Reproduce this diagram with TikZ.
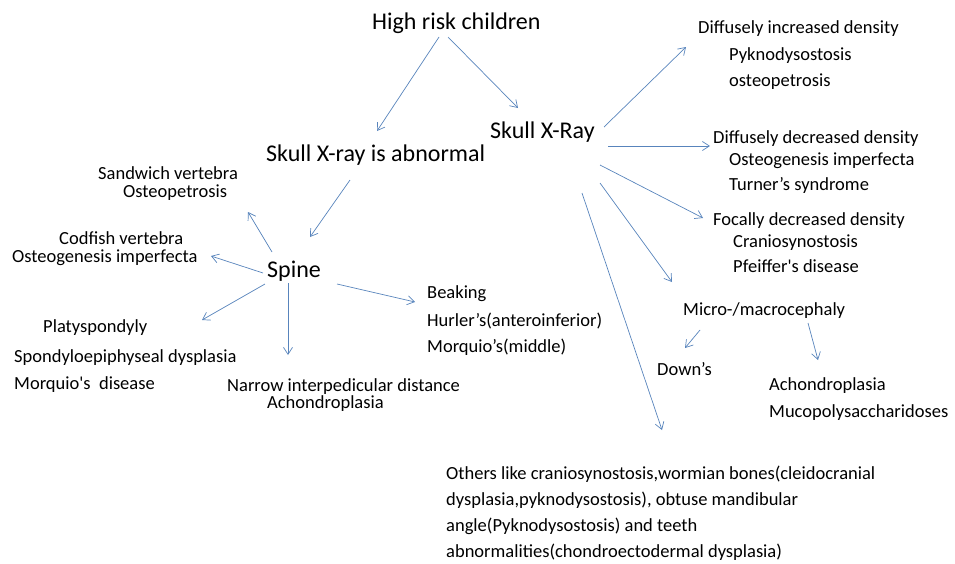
\documentclass[tikz,border=0pt]{standalone}
\usepackage{fontspec}
\setmainfont{Carlito}
\usepackage{tikz}
\usetikzlibrary{arrows.meta}
\definecolor{arrowblue}{RGB}{88,132,188}

\begin{document}
\begin{tikzpicture}[x=1pt, y=-1pt,
        big/.style={inner sep=0pt, anchor=base west, font=\fontsize{24}{28}\selectfont},
        small/.style={inner sep=0pt, anchor=base west, align=left, font=\fontsize{18.5}{26}\selectfont},
        arr/.style={draw=arrowblue, line width=0.7pt, -{Straight Barb[length=7pt, width=9pt]}}]
        \useasboundingbox (0,0) rectangle (955,563);

        % Top
        \node[big] (high) at (372, 29) {High risk children};
        \node[big] (xray) at (490, 138) {Skull X-Ray};
        \node[big] (abn) at (266, 161) {Skull X-ray is abnormal};
        \node[big] (spine) at (267, 277) {Spine};

        % Spine (blocks sit on their last line)
        \node[small] (sandwich) at (98, 197) {Sandwich vertebra\\[-8pt]\hspace*{25pt}Osteopetrosis};
        \node[small] (codfish) at (12, 262) {\hspace*{47pt}Codfish vertebra\\[-8pt]Osteogenesis imperfecta};
        \node[small] (platy) at (14, 389) {\hspace*{29pt}Platyspondyly\\[4pt]Spondyloepiphyseal dysplasia\\[1pt]Morquio\textquotesingle s\ \ disease};
        \node[small] (narrow) at (227, 408) {Narrow interpedicular distance\\[-9pt]\hspace*{40pt}Achondroplasia};
        \node[small] (beak) at (427, 352) {Beaking\\[2pt]Hurler’s(anteroinferior)\\[0pt]Morquio’s(middle)};

        % Skull X-Ray
        \node[small] (dinc) at (698, 86) {Diffusely increased density\\[1pt]\hspace*{31pt}Pyknodysostosis\\[0pt]\hspace*{31pt}osteopetrosis};
        \node[small] (ddec) at (713, 190) {Diffusely decreased density\\[-4pt]\hspace*{16pt}Osteogenesis imperfecta\\[-1pt]\hspace*{16pt}Turner’s syndrome};
        \node[small] (focal) at (713, 272) {Focally decreased density\\[-4pt]\hspace*{20pt}Craniosynostosis\\[-1pt]\hspace*{20pt}Pfeiffer\textquotesingle s disease};
        \node[small] (micro) at (683, 315) {Micro-/macrocephaly};
        \node[small] (down) at (657, 375) {Down’s};
        \node[small] (achm) at (769, 417) {Achondroplasia\\[1pt]Mucopolysaccharidoses};
        \node[small] (others) at (446, 557) {Others like craniosynostosis,wormian bones(cleidocranial\\dysplasia,pyknodysostosis), obtuse mandibular\\angle(Pyknodysostosis) and teeth\\abnormalities(chondroectodermal dysplasia)};

        \draw[arr] ([shift={(67,8)}]high.base west) -- ([shift={(111,-30)}]abn.base west);
        \draw[arr] ([shift={(76,8)}]high.base west) -- ([shift={(28,-30)}]xray.base west);
        \draw[arr] ([shift={(84,19)}]abn.base west) -- ([shift={(43,-40)}]spine.base west);

        \draw[arr] ([shift={(5,-25)}]spine.base west) -- ([shift={(150,15)}]sandwich.base west);
        \draw[arr] ([shift={(-4,-4)}]spine.base west) -- ([shift={(199,-6)}]codfish.base west);
        \draw[arr] ([shift={(-2,7)}]spine.base west) -- ([shift={(188,-69)}]platy.base west);
        \draw[arr] ([shift={(21,6)}]spine.base west) -- ([shift={(61,-53)}]narrow.base west);
        \draw[arr] ([shift={(70,7)}]spine.base west) -- ([shift={(-12,-50)}]beak.base west);

        \draw[arr] ([shift={(114,-11)}]xray.base west) -- ([shift={(-12,-39)}]dinc.base west);
        \draw[arr] ([shift={(118,8)}]xray.base west) -- ([shift={(-3,-44)}]ddec.base west);
        \draw[arr] ([shift={(110,27)}]xray.base west) -- ([shift={(-10,-54)}]focal.base west);
        \draw[arr] ([shift={(110,45)}]xray.base west) -- ([shift={(-11,-33)}]micro.base west);
        \draw[arr] ([shift={(92,55)}]xray.base west) -- ([shift={(216,-127)}]others.base west);

        \draw[arr] ([shift={(17,15)}]micro.base west) -- ([shift={(28,-27)}]down.base west);
        \draw[arr] ([shift={(125,8)}]micro.base west) -- ([shift={(49,-57)}]achm.base west);
    \end{tikzpicture}
\end{document}
